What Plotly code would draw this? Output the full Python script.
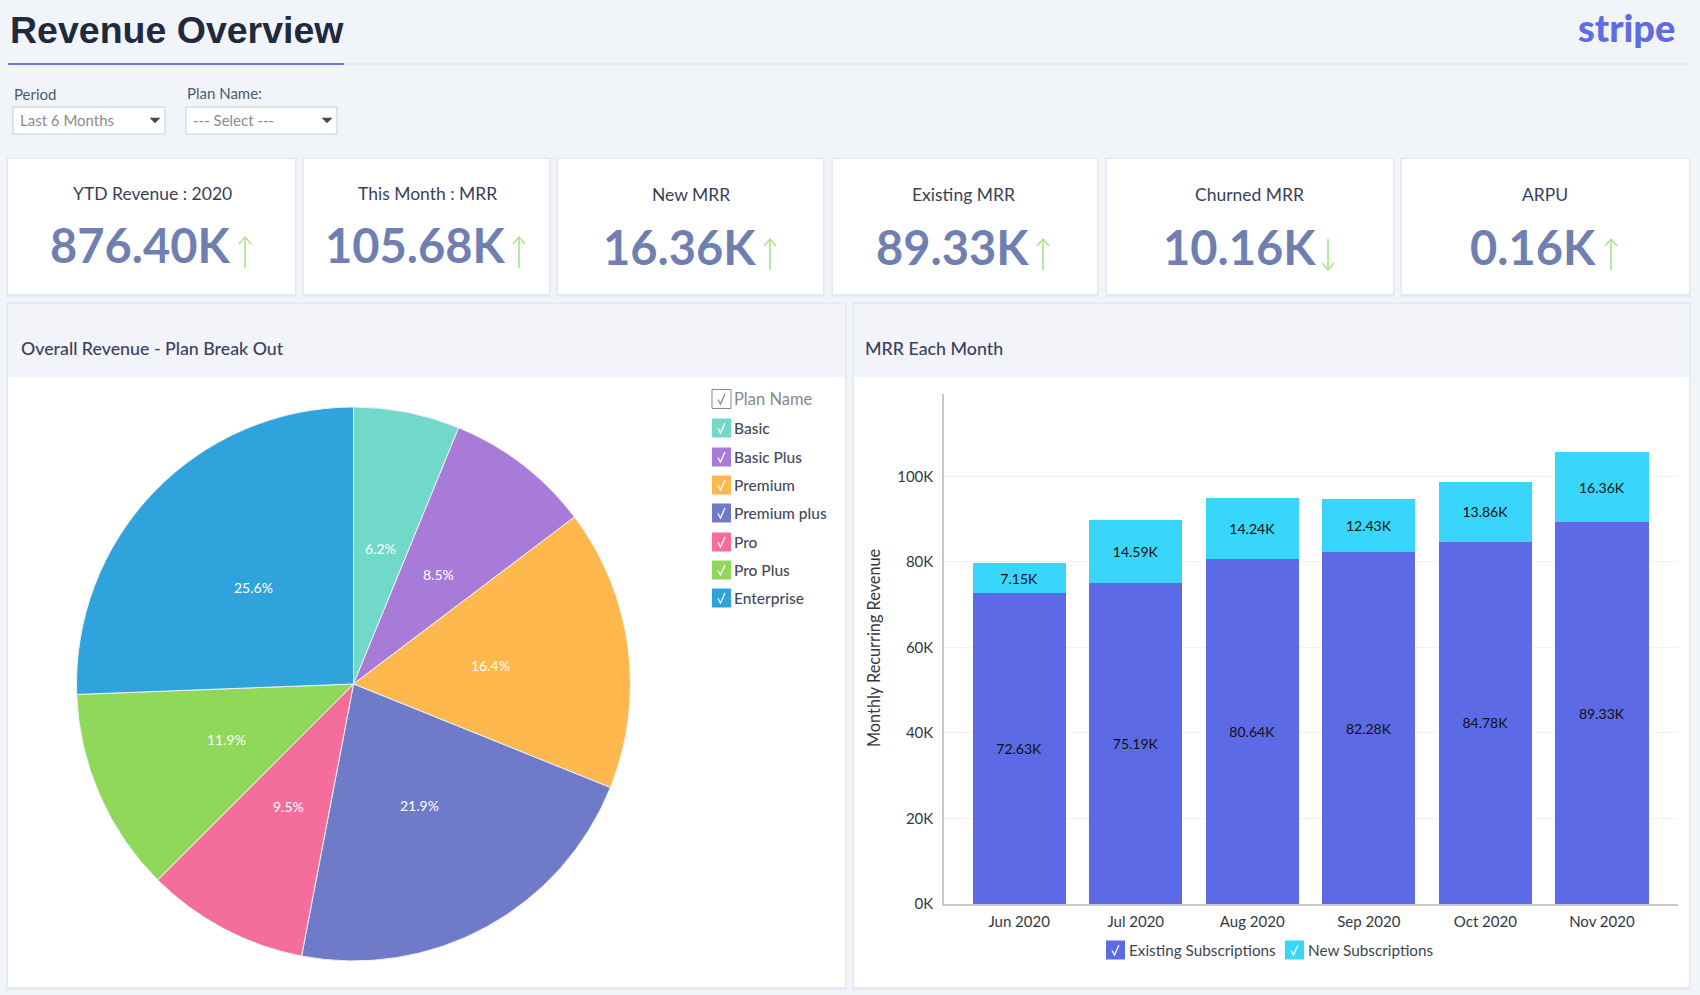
import math
import plotly.graph_objects as go

W, H = 1700, 995

# pie
plans = ['Basic', 'Basic Plus', 'Premium', 'Premium plus', 'Pro', 'Pro Plus', 'Enterprise']
plan_share = [6.2, 8.5, 16.4, 21.9, 9.5, 11.9, 25.6]
plan_colors = ['#72d8ca', '#a87bd8', '#ffb84d', '#6f7bc9', '#f46d9b', '#8fd859', '#2fa4dc']

# stacked bars, values in K
months = ['Jun 2020', 'Jul 2020', 'Aug 2020', 'Sep 2020', 'Oct 2020', 'Nov 2020']
existing = [72.63, 75.19, 80.64, 82.28, 84.78, 89.33]
new_subs = [7.15, 14.59, 14.24, 12.43, 13.86, 16.36]

# kpi cards
kpi_titles = ['YTD Revenue : 2020', 'This Month : MRR', 'New MRR', 'Existing MRR', 'Churned MRR', 'ARPU']
kpi_values = ['876.40K', '105.68K', '16.36K', '89.33K', '10.16K', '0.16K']
kpi_up = [True, True, True, True, False, True]

card_left = [8, 304, 558, 833, 1107, 1402]
card_right = [295, 549, 823, 1097, 1393, 1689]
title_cx = [152, 427, 691, 964, 1249, 1545]
value_cx = [140, 415, 679, 952, 1239, 1533]
arrow_x = [245, 519, 770, 1043, 1328, 1611]
card_title_y = [193, 193, 195, 195, 195, 195]
card_value_y = [245, 245, 247, 247, 247, 247]


def fx(x):
    return x / W


def fy(y):
    return 1 - y / H


shapes = []
annotations = []


def rect(x0, y0, x1, y1, fill, line=None, width=0, layer='below'):
    shapes.append(dict(type='rect', xref='paper', yref='paper', layer=layer,
                       x0=fx(x0), x1=fx(x1), y0=fy(y0), y1=fy(y1), fillcolor=fill,
                       line=dict(color=line or fill, width=width)))


def path(points, color, width=1.5, fill=None, close=False):
    d = 'M ' + ' L '.join(f'{fx(x):.5f},{fy(y):.5f}' for x, y in points)
    if close:
        d += ' Z'
    shapes.append(dict(type='path', xref='paper', yref='paper', layer='below', path=d,
                       fillcolor=fill, line=dict(color=color, width=width)))


def text(x, y, s, size, color, anchor='left', family='Lato', weight=400):
    annotations.append(dict(x=fx(x), y=fy(y), xref='paper', yref='paper', text=s, showarrow=False,
                            xanchor=anchor, yanchor='middle', borderpad=0,
                            font=dict(family=family, size=size, color=color, weight=weight)))


def shadow_box(x0, y0, x1, y1):
    rect(x0 - 2, y0 - 2, x1 + 2, y1 + 4, '#ebeef3')
    rect(x0 - 1, y0 - 1, x1 + 1, y1 + 2, '#e5e8ee')
    rect(x0, y0, x1, y1, '#ffffff')


def checkbox(x, y, fill, tick='#ffffff', border=None):
    rect(x, y - 9.5, x + 19, y + 9.5, fill, border, 1 if border else 0)
    path([(x + 6, y + 0.5), (x + 8.5, y + 5), (x + 13, y - 5)], tick, 1.3)


# header
text(9, 30, 'Revenue Overview', 37.5, '#1f2a3c', family='Liberation Sans', weight=700)
text(1626, 27, 'stripe', 38, '#5f6ce0', anchor='center', family='Lato', weight=900)
rect(344, 63, 1689, 65, '#e7eaef')
rect(8, 63, 344, 65, '#6d72e0')

# filters
text(13, 94, 'Period', 15, '#4e5a6c')
text(186, 93, 'Plan Name:', 15, '#4e5a6c')
for x0, x1, label in [(13, 165, 'Last 6 Months'), (186, 337, '--- Select ---')]:
    rect(x0, 107, x1, 134, '#ffffff', '#c9cdd3', 1)
    text(x0 + 6, 120, label, 15, '#8b8b8b')
    path([(x1 - 15, 118), (x1 - 5, 118), (x1 - 10, 123)], '#4a4a4a', 0.5, '#4a4a4a', True)

# kpi cards
for i in range(6):
    shadow_box(card_left[i], 159, card_right[i], 294)
    text(title_cx[i], card_title_y[i], kpi_titles[i], 17.5, '#3a3f58', anchor='center')
    text(value_cx[i], card_value_y[i], kpi_values[i], 47, '#6f7fb2', anchor='center', weight=700)
    ax = arrow_x[i]
    top, bot = card_value_y[i] - 8, card_value_y[i] + 23
    path([(ax, top), (ax, bot)], '#a9e28f', 1.6)
    if kpi_up[i]:
        path([(ax - 6, top + 7), (ax, top), (ax + 6, top + 7)], '#a9e28f', 1.4)
    else:
        path([(ax - 6, bot - 7), (ax, bot), (ax + 6, bot - 7)], '#a9e28f', 1.4)

# panels
for x0, x1, label in [(8, 845, 'Overall Revenue - Plan Break Out'), (854, 1689, 'MRR Each Month')]:
    shadow_box(x0, 304, x1, 987)
    rect(x0, 304, x1, 377, '#f2f4f9')
    text(x0 + (12 if x0 == 8 else 10), 348, label, 17.8, '#3c4160', weight=500)

# pie legend
checkbox(712, 399, '#ffffff', '#8a8a8a', '#8a8a8a')
text(733, 399, 'Plan Name', 16.5, '#85898f')
legend_rows = [428, 457, 485, 513, 542, 570, 598]
for name, color, y in zip(plans, plan_colors, legend_rows):
    checkbox(712, y, color)
    text(733, y, name, 15.5, '#454a5c', weight=500)

# bar legend
checkbox(1106, 950, '#5c6ae6')
text(1128, 950, 'Existing Subscriptions', 15.3, '#3f4450')
checkbox(1285, 950, '#38d6fb')
text(1307, 950, 'New Subscriptions', 15.3, '#3f4450')

# y axis title
annotations.append(dict(x=fx(873), y=fy(648), xref='paper', yref='paper', text='Monthly Recurring Revenue',
                        showarrow=False, textangle=-90, xanchor='center', yanchor='middle',
                        font=dict(family='Lato', size=16.3, color='#33373f')))

pie_cx, pie_cy, pie_r = 353.5, 684, 277

# plotly can't set the radius of inside pie text, so the % labels go at half radius by hand
start = 0
for share in plan_share:
    mid = (start + share / 2) / sum(plan_share) * 2 * math.pi
    start += share
    text(pie_cx + 0.5 * pie_r * math.sin(mid), pie_cy - 0.5 * pie_r * math.cos(mid),
         f'{share:.1f}%', 14, '#ffffff', anchor='center')

fig = go.Figure()
fig.add_trace(go.Pie(
    labels=plans, values=plan_share, sort=False, direction='clockwise', rotation=0,
    marker=dict(colors=plan_colors, line=dict(color='#eef3f3', width=1)),
    textinfo='none',
    domain=dict(x=[fx(pie_cx - pie_r), fx(pie_cx + pie_r)], y=[fy(pie_cy + pie_r), fy(pie_cy - pie_r)]),
    showlegend=False,
))
fig.add_trace(go.Bar(
    name='Existing Subscriptions', x=months, y=existing, marker_color='#5c6ae6', marker_line_width=0,
    text=[f'{v:.2f}K' for v in existing], textposition='inside', insidetextanchor='middle',
    textangle=0, textfont=dict(family='Lato', size=14, color='#111111'), showlegend=False,
))
fig.add_trace(go.Bar(
    name='New Subscriptions', x=months, y=new_subs, marker_color='#38d6fb', marker_line_width=0,
    text=[f'{v:.2f}K' for v in new_subs], textposition='inside', insidetextanchor='middle',
    textangle=0, textfont=dict(family='Lato', size=14, color='#111111'), showlegend=False,
))

fig.update_layout(
    width=W, height=H, margin=dict(l=0, r=0, t=0, b=0), autosize=False,
    paper_bgcolor='#f1f4f9', plot_bgcolor='rgba(0,0,0,0)',
    barmode='stack', bargap=0.2, shapes=shapes, annotations=annotations,
    font=dict(family='Lato', size=15, color='#333333'),
    xaxis=dict(domain=[fx(944), fx(1678)], range=[-0.645, 5.653], showgrid=False, showline=True,
               linecolor='#c8c8c8', linewidth=1.5, ticks='', ticklabelstandoff=3, automargin=False,
               tickfont=dict(family='Lato', size=15, color='#33373f'), anchor='y', fixedrange=True),
    yaxis=dict(domain=[fy(904), fy(393.5)], range=[0, 119.4], dtick=20, ticksuffix='K', showgrid=True,
               gridcolor='#f3f3f3', gridwidth=1, zeroline=False, showline=True, linecolor='#c8c8c8', linewidth=1.5,
               ticks='', ticklabelstandoff=6, automargin=False, tickfont=dict(family='Lato', size=15, color='#33373f'),
               anchor='x', fixedrange=True),
)

fig.write_html(
    "out.html",
    config={'displayModeBar': False},
    post_script="document.documentElement.style.overflow='hidden';document.body.style.overflow='hidden';"
                "document.body.style.margin='0';document.body.style.height='995px';"
                "document.body.style.background='#f1f4f9';",
)
